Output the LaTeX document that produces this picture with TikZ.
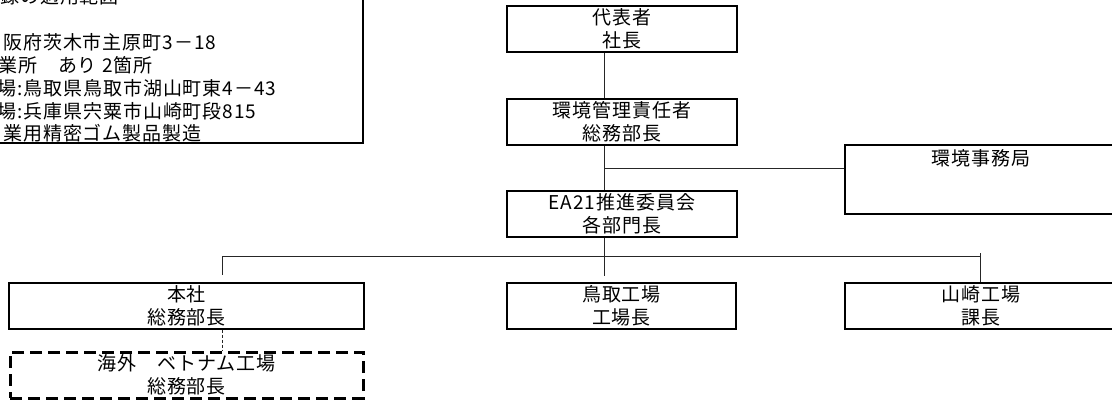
\documentclass[tikz,border=0pt]{standalone}
\usepackage{fontspec}
\setmainfont{Noto Sans CJK JP}[LetterSpace=5]
\usetikzlibrary{calc}
\newcommand\jpfont{\fontsize{19}{23}\selectfont}
\begin{document}
\begin{tikzpicture}[x=1pt,y=-1pt,
  box/.style={draw, line width=1.2pt, inner sep=0pt, minimum height=46pt, align=center, font=\jpfont},
  dashbox/.style={box, line width=3pt, dash pattern=on 12pt off 6pt},
  conn/.style={line width=1pt, draw=black!85},
  dashconn/.style={line width=0.9pt, draw=black!85, dash pattern=on 3pt off 2pt},
  scopetext/.style={anchor=base west, inner sep=0pt, font=\jpfont}]
\useasboundingbox (0,0) rectangle (1112,400);
% scope box (clipped by page)
\node[draw, line width=1.2pt, minimum width=373pt, minimum height=153pt, inner sep=0pt] (scopebox) at (176.5,66.5) {};
\node[scopetext] (s1) at (0,3.5) {録の適用範囲};
\node[scopetext] (s3) at (3,49.5) {阪府茨木市主原町3－18};
\node[scopetext] (s4) at (-2,72.5) {業所　あり 2箇所};
\node[scopetext] (s5) at (-3,95.5) {場:鳥取県鳥取市湖山町東4－43};
\node[scopetext] (s6) at (-3,118.5) {場:兵庫県宍粟市山崎町段815};
\node[scopetext] (s7) at (3,140) {業用精密ゴム製品製造};
% main chain
\node[box, minimum width=230pt] (rep) at (622,29) {代表者\\社長};
\node[box, minimum width=230pt] (emr) at (622,122) {環境管理責任者\\総務部長};
\node[box, minimum width=230pt] (ea21) at (622,214) {EA21推進委員会\\各部門長};
\node[box, minimum width=272pt, minimum height=69pt] (office) at (981,179.5) {};
\node[font=\jpfont, inner sep=0pt] (officetext) at (981,158) {環境事務局};
% bottom row
\node[box, minimum width=355pt] (honsha) at (186.5,306) {本社\\総務部長};
\node[box, minimum width=229pt] (tottori) at (621.5,306) {鳥取工場\\工場長};
\node[box, minimum width=272pt] (yamasaki) at (981,306) {山崎工場\\課長};
\node[dashbox, minimum width=353pt] (vietnam) at (186.5,375) {海外　ベトナム工場\\総務部長};
% connectors
\coordinate (spine) at (604,0);
\coordinate (hx) at (222,0);
\coordinate (yx) at (980,0);
\coordinate (bus) at (604,256);
\draw[conn] (rep.south -| spine) -- (emr.north -| spine);
\draw[conn] (emr.south -| spine) -- (ea21.north -| spine);
\coordinate (jn) at ($(emr.south -| spine)!0.5!(ea21.north -| spine)$);
\draw[conn] (jn) -- (jn -| office.west);
\draw[conn] (ea21.south -| spine) -- ([yshift=6pt]tottori.north -| spine);
\draw[conn] (bus -| hx) -- (bus -| yx);
\draw[conn] (bus -| hx) -- ([yshift=7pt]honsha.north -| hx);
\draw[conn] ([yshift=3pt]bus -| yx) -- (yamasaki.north -| yx);
\draw[dashconn] (honsha.south -| hx) -- (vietnam.north -| hx);
\end{tikzpicture}
\end{document}
